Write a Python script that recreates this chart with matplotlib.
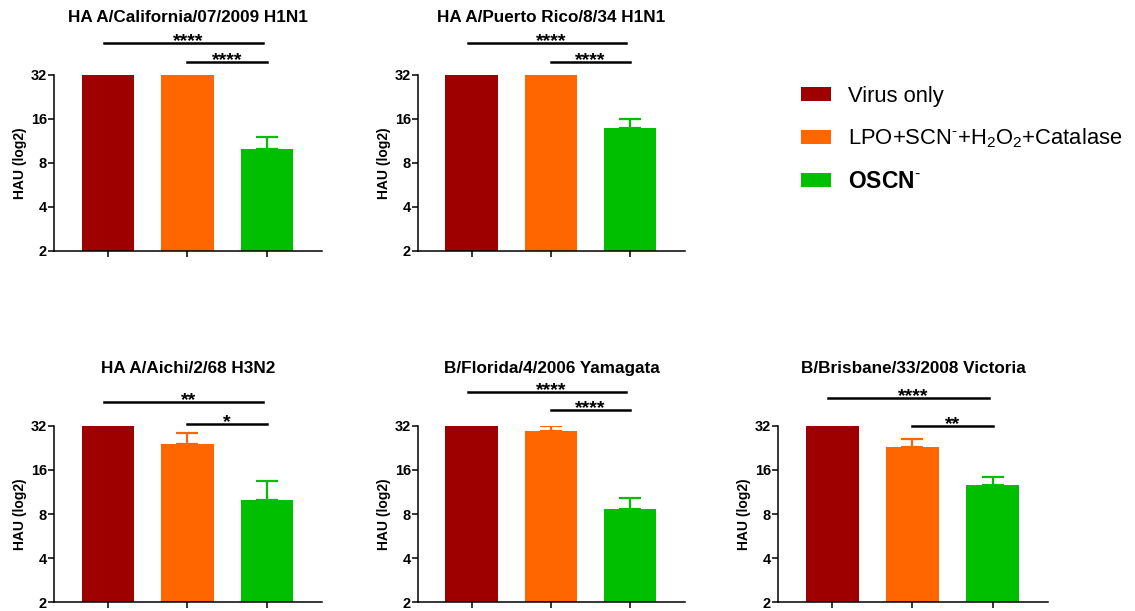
import numpy as np
import matplotlib
matplotlib.use('Agg')
import matplotlib.pyplot as plt

plt.rcParams['font.family'] = ['Liberation Sans', 'DejaVu Sans']
plt.rcParams['mathtext.fontset'] = 'custom'
plt.rcParams['mathtext.rm'] = 'Liberation Sans'
plt.rcParams['mathtext.it'] = 'Liberation Sans:italic'
plt.rcParams['mathtext.bf'] = 'Liberation Sans:bold'

# data
strains = ['HA A/California/07/2009 H1N1', 'HA A/Puerto Rico/8/34 H1N1',
           'HA A/Aichi/2/68 H3N2', 'B/Florida/4/2006 Yamagata',
           'B/Brisbane/33/2008 Victoria']
groups = ['Virus only', r'LPO+SCN$^{\text{-}}$+H$_2$O$_2$+Catalase',
          r'OSCN$^{\text{-}}$']
colors = ['#9E0000', '#FF6600', '#00BF00']

virus_only = [32, 32, 32, 32, 32]
lpo_mix = [32, 32, 24.1, 29.6, 22.9]
oscn = [9.9, 13.95, 9.97, 8.6, 12.6]

virus_only_err = [0, 0, 0, 0, 0]
lpo_mix_err = [0, 0, 4.7, 2.2, 3.3]
oscn_err = [2.2, 2.1, 3.5, 1.7, 1.7]

# significance brackets: (virus only vs OSCN, LPO mix vs OSCN)
long_stars = ['****', '****', '**', '****', '****']
short_stars = ['****', '****', '*', '****', '**']
long_y = [53, 53, 46.7, 54.7, 49.8]
short_y = [39.3, 39.3, 33, 41.1, 32]

yticks = [2, 4, 8, 16, 32]

# axes positions (figure fraction)
positions = [
    [0.0476, 0.5892, 0.2361, 0.2881],
    [0.3683, 0.5892, 0.2352, 0.2881],
    [0.0476, 0.0147, 0.2361, 0.2881],
    [0.3683, 0.0147, 0.2352, 0.2881],
    [0.6855, 0.0147, 0.2378, 0.2881],
]

fig = plt.figure(figsize=(11.35, 6.11), dpi=100)

x = np.arange(3)
handles = None
for i, name in enumerate(strains):
    ax = fig.add_axes(positions[i])
    ax.set_yscale('log', base=2)
    means = [virus_only[i], lpo_mix[i], oscn[i]]
    errs = [virus_only_err[i], lpo_mix_err[i], oscn_err[i]]
    bars = ax.bar(x, means, width=0.66, color=colors, edgecolor='none', zorder=2)
    for j in range(3):
        if errs[j] > 0:
            ax.errorbar(x[j], means[j], yerr=[[0], [errs[j]]], fmt='none',
                        ecolor=colors[j], elinewidth=1.6, capsize=8,
                        capthick=1.6, zorder=1)
    if handles is None:
        handles = bars

    ax.set_xlim(-0.675, 2.69)
    ax.set_ylim(2, 32)
    ax.set_yticks(yticks)
    ax.set_yticklabels([str(t) for t in yticks])
    ax.minorticks_off()
    ax.set_xticks(x)
    ax.set_xticklabels([])
    ax.tick_params(axis='both', direction='out', length=4.5, width=1.1,
                   labelsize=10.5, pad=0.5)
    for lab in ax.get_yticklabels():
        lab.set_fontweight('bold')
    for side in ['top', 'right']:
        ax.spines[side].set_visible(False)
    for side in ['left', 'bottom']:
        ax.spines[side].set_linewidth(1.1)
    ax.set_ylabel('HAU (log2)', fontsize=10, fontweight='bold', labelpad=3)
    ax.set_title(name, fontsize=12.3, fontweight='bold', pad=38)

    # significance brackets above the axes
    ax.plot([-0.05, 1.95], [long_y[i], long_y[i]], color='black', lw=1.8,
            clip_on=False)
    ax.plot([1.0, 2.0], [short_y[i], short_y[i]], color='black', lw=1.8,
            clip_on=False)
    ax.annotate(long_stars[i], (1.01, long_y[i]), xytext=(0, -2),
                textcoords='offset points', ha='center', va='baseline',
                fontsize=14, fontweight='bold', annotation_clip=False)
    ax.annotate(short_stars[i], (1.5, short_y[i]), xytext=(0, -2),
                textcoords='offset points', ha='center', va='baseline',
                fontsize=14, fontweight='bold', annotation_clip=False)

leg = fig.legend(handles, groups, loc='upper left', bbox_to_anchor=(0.688, 0.892),
                 frameon=False, fontsize=15.8, handlelength=1.4,
                 handleheight=0.64, handletextpad=0.75, labelspacing=0.9)
leg.get_texts()[2].set_fontweight('bold')
leg.get_texts()[2].set_fontsize(16.5)

fig.savefig('out.png', dpi=100)
